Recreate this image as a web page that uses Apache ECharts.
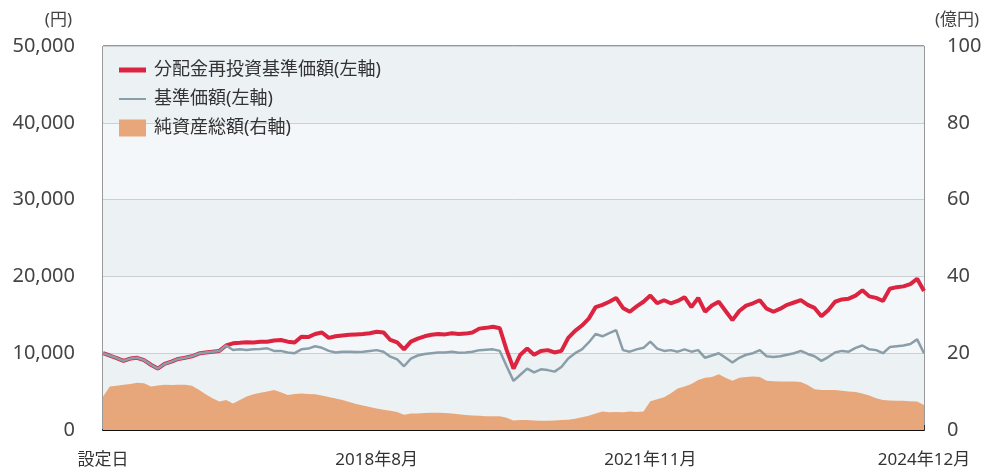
<!DOCTYPE html>
<html>
<head>
<meta charset="utf-8">
<script src="https://cdn.jsdelivr.net/npm/echarts@6/dist/echarts.min.js"></script>
<style>
  html, body { margin: 0; padding: 0; background: #fff; }
  #chart { width: 986px; height: 469px; }
</style>
</head>
<body>
<div id="chart"></div>
<script>
// x axis: one point per step, labels only at these positions
const tickLabels = ['設定日', '2018年8月', '2021年11月', '2024年12月']
const tickIndex = [0, 40, 80, 120]

// 分配金再投資基準価額 (円)
const reinvested = [
  10000, 9700, 9370, 9000, 9300, 9400, 9100, 8500, 8000, 8600,
  8900, 9250, 9400, 9600, 9950, 10100, 10200, 10300, 11000, 11290,
  11350, 11420, 11400, 11500, 11500, 11650, 11720, 11500, 11400, 12150,
  12100, 12500, 12700, 12000, 12200, 12300, 12400, 12450, 12500, 12600,
  12800, 12700, 11720, 11400, 10500, 11500, 11900, 12200, 12400, 12500,
  12450, 12600, 12500, 12550, 12700, 13200, 13300, 13450, 13240, 10400,
  8000, 9800, 10600, 9800, 10300, 10400, 10100, 10300, 12000, 12900,
  13600, 14500, 16000, 16300, 16700, 17200, 15900, 15400, 16100, 16700,
  17500, 16500, 16900, 16500, 16800, 17300, 16000, 17200, 15400, 16200,
  16700, 15500, 14300, 15500, 16200, 16500, 16900, 15800, 15400, 15800,
  16300, 16600, 16900, 16300, 15900, 14800, 15600, 16700, 17000, 17100,
  17500, 18200, 17400, 17200, 16800, 18400, 18600, 18700, 19000, 19700,
  18100
]

// 基準価額 (円)
const basePrice = [
  10000, 9700, 9370, 9000, 9300, 9400, 9100, 8500, 8000, 8600,
  8900, 9250, 9400, 9600, 9950, 10100, 10200, 10300, 11000, 10420,
  10500, 10420, 10500, 10550, 10630, 10300, 10300, 10100, 10000, 10500,
  10600, 10900, 10700, 10300, 10100, 10200, 10200, 10150, 10200, 10300,
  10400, 10200, 9550, 9200, 8300, 9300, 9700, 9900, 10000, 10100,
  10100, 10200, 10050, 10100, 10200, 10400, 10450, 10500, 10300, 8300,
  6400, 7200, 8000, 7500, 7900, 7800, 7600, 8200, 9300, 10000,
  10500, 11400, 12500, 12200, 12600, 13000, 10400, 10200, 10500, 10700,
  11500, 10600, 10300, 10400, 10200, 10500, 10200, 10400, 9400, 9700,
  10000, 9400, 8800, 9400, 9800, 10000, 10400, 9600, 9500, 9600,
  9800, 10000, 10300, 9900, 9600, 9000, 9500, 10100, 10300, 10200,
  10700, 11000, 10500, 10400, 10000, 10800, 10900, 11000, 11200, 11800,
  10000
]

// 純資産総額 (億円)
const netAssets = [
  8.7, 11.3, 11.5, 11.8, 12.0, 12.3, 12.2, 11.3, 11.6, 11.8,
  11.7, 11.8, 11.8, 11.5, 10.5, 9.3, 8.3, 7.4, 7.8, 6.9,
  7.8, 8.7, 9.3, 9.7, 10.0, 10.4, 9.8, 9.1, 9.4, 9.5,
  9.4, 9.3, 9.0, 8.6, 8.2, 7.8, 7.3, 6.8, 6.4, 6.0,
  5.6, 5.3, 5.0, 4.7, 4.0, 4.3, 4.3, 4.4, 4.5, 4.5,
  4.4, 4.3, 4.1, 3.9, 3.8, 3.7, 3.6, 3.6, 3.6, 3.2,
  2.5, 2.6, 2.6, 2.5, 2.4, 2.4, 2.5, 2.6, 2.7, 2.9,
  3.3, 3.7, 4.3, 4.8, 4.6, 4.7, 4.6, 4.8, 4.7, 4.8,
  7.5, 8.0, 8.5, 9.6, 10.8, 11.3, 12.0, 13.0, 13.6, 13.8,
  14.5, 13.6, 12.8, 13.6, 13.8, 13.9, 13.8, 12.8, 12.7, 12.6,
  12.6, 12.6, 12.5, 11.7, 10.6, 10.4, 10.4, 10.4, 10.2, 10.0,
  9.9, 9.5, 9.0, 8.3, 7.8, 7.7, 7.6, 7.6, 7.5, 7.4,
  6.5
]

const categories = reinvested.map((_, i) => i)
const isTick = (i) => tickIndex.includes(i)

const chart = echarts.init(document.getElementById('chart'))

const option = {
  animation: false,
  textStyle: { fontFamily: '"Noto Sans", "Noto Sans CJK JP", sans-serif' },
  grid: {
    left: 103, right: 62, top: 46, bottom: 39,
    show: true, borderColor: '#333', borderWidth: 1, backgroundColor: 'transparent',
  },
  legend: {
    orient: 'vertical',
    left: 114,
    top: 56,
    itemWidth: 27,
    itemHeight: 17,
    itemGap: 11,
    textStyle: { color: '#333', fontSize: 18, padding: [0, 0, 0, 3] },
    data: [
      { name: '分配金再投資基準価額(左軸)', icon: 'path://M0,0H27V5H0Z', itemStyle: { color: '#dc2340' } },
      { name: '基準価額(左軸)', icon: 'path://M0,0H27V2H0Z', itemStyle: { color: '#8a9ea9' } },
      { name: '純資産総額(右軸)', icon: 'rect', itemStyle: { color: '#e8a77b' } },
    ],
  },
  xAxis: {
    type: 'category',
    data: categories,
    boundaryGap: false,
    axisLine: { lineStyle: { color: '#111', width: 2 } },
    axisTick: { inside: true, length: 5, interval: isTick, lineStyle: { color: '#333' } },
    axisLabel: {
      interval: isTick,
      formatter: (v, i) => tickLabels[tickIndex.indexOf(i)],
      color: '#333',
      fontSize: 17,
      margin: 22,
    },
    splitLine: { show: false },
  },
  yAxis: [
    {
      type: 'value',
      min: 0, max: 50000, interval: 10000,
      name: '(円)',
      nameLocation: 'end',
      nameGap: 17,
      nameTextStyle: { color: '#444', fontSize: 17, align: 'right', padding: [0, 31, 0, 0] },
      axisLine: { show: false },
      axisTick: { show: false },
      axisLabel: {
        color: '#444', fontSize: 20, margin: 28,
        formatter: (v) => v.toLocaleString('en-US'),
      },
      splitLine: { lineStyle: { color: '#c9cfd3', width: 1 } },
      splitArea: { show: true, areaStyle: { color: ['#ecf1f4', '#f4f7f9'] } },
    },
    {
      type: 'value',
      min: 0, max: 100, interval: 20,
      name: '(億円)',
      nameLocation: 'end',
      nameGap: 17,
      nameTextStyle: { color: '#444', fontSize: 17, align: 'left', padding: [0, 0, 0, 11] },
      axisLine: { show: false },
      axisTick: { show: false },
      axisLabel: { color: '#444', fontSize: 20, margin: 23 },
      splitLine: { show: false },
    },
  ],
  series: [
    {
      name: '純資産総額(右軸)',
      type: 'line',
      yAxisIndex: 1,
      data: netAssets,
      showSymbol: false,
      lineStyle: { width: 0 },
      itemStyle: { color: '#e8a77b' },
      areaStyle: { color: '#e8a77b', opacity: 1 },
    },
    {
      name: '分配金再投資基準価額(左軸)',
      type: 'line',
      data: reinvested,
      showSymbol: false,
      itemStyle: { color: '#dc2340' },
      lineStyle: { color: '#dc2340', width: 4 },
    },
    {
      name: '基準価額(左軸)',
      type: 'line',
      data: basePrice,
      showSymbol: false,
      itemStyle: { color: '#8a9ea9' },
      lineStyle: { color: '#8a9ea9', width: 2.5 },
    },
  ],
}

chart.setOption(option)
window.addEventListener('resize', () => chart.resize())
</script>
</body>
</html>
